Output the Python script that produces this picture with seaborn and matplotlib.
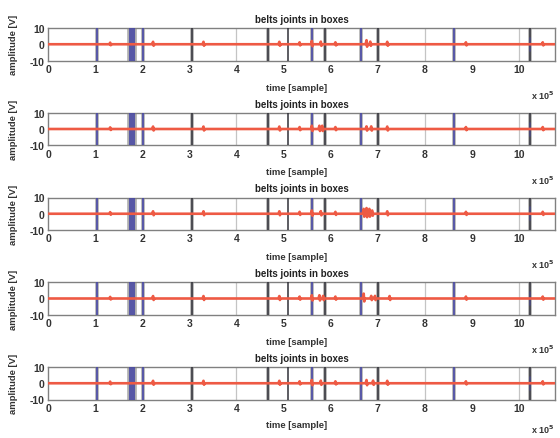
import numpy as np
import pandas as pd
import matplotlib
matplotlib.use("Agg")
import matplotlib.pyplot as plt
import seaborn as sns

# ---------------- data ----------------
title_text = "belts joints in boxes"
x_label = "time [sample]"
y_label = "amplitude [V]"
x_ticks = [0, 1, 2, 3, 4, 5, 6, 7, 8, 9, 10]
y_ticks = [-10, 0, 10]

# joint markers (x 10^5 samples)
joints_dark = [3.06, 4.66, 5.10, 5.88, 7.00, 10.22]
joints_gray = [1.04, 1.72, 1.76, 1.80, 1.84, 2.02, 3.06, 4.66, 5.60, 5.88, 6.64, 7.00, 8.62, 10.22]
joints_blue = [1.04, 1.75, 1.79, 1.83, 2.02, 5.60, 6.64, 8.62]
joints_faint = [4.00, 8.00, 10.00]
joint_blue_short = [10.24]

# small spikes on the amplitude signal, one list per panel
spike_pos_1 = [1.32, 2.23, 3.30, 4.91, 5.34, 5.60, 5.79, 6.10, 6.76, 6.84, 7.20, 8.87, 10.50]
spike_amp_1 = [1.0, 1.5, 1.5, 1.5, 1.2, 2.0, 1.6, 1.2, 2.5, 1.6, 1.5, 1.2, 1.2]
spike_pos_2 = [1.32, 2.23, 3.30, 4.91, 5.34, 5.60, 5.76, 5.82, 6.10, 6.76, 6.86, 7.20, 8.87, 10.50]
spike_amp_2 = [1.0, 1.5, 1.5, 1.5, 1.2, 2.0, 2.0, 2.0, 1.2, 1.6, 1.6, 1.5, 1.2, 1.2]
spike_pos_3 = [1.32, 2.23, 3.30, 4.91, 5.34, 5.60, 5.79, 6.10, 6.70, 6.76, 6.82, 6.88, 7.20, 8.87, 10.50]
spike_amp_3 = [1.0, 1.5, 1.5, 1.5, 1.2, 2.0, 1.6, 1.2, 3.0, 3.5, 3.0, 2.0, 1.5, 1.2, 1.2]
spike_pos_4 = [1.32, 2.23, 3.30, 4.91, 5.34, 5.60, 5.76, 5.84, 6.10, 6.70, 6.86, 6.94, 7.25, 8.87, 10.50]
spike_amp_4 = [1.0, 1.5, 1.5, 1.5, 1.2, 2.0, 2.0, 1.6, 1.2, 3.0, 1.6, 1.6, 1.5, 1.2, 1.2]
spike_pos_5 = [1.32, 2.23, 3.30, 4.91, 5.34, 5.60, 5.79, 6.10, 6.76, 6.90, 7.20, 8.87, 10.50]
spike_amp_5 = [1.0, 1.5, 1.5, 1.5, 1.2, 2.0, 1.6, 1.2, 2.0, 1.6, 1.5, 1.2, 1.2]

spike_pos = [spike_pos_1, spike_pos_2, spike_pos_3, spike_pos_4, spike_pos_5]
spike_amp = [spike_amp_1, spike_amp_2, spike_amp_3, spike_amp_4, spike_amp_5]

x_start, x_end = 0.0, 10.76

# ---------------- style ----------------
sns.set_style("white")
plt.rcParams["font.family"] = ["Liberation Sans", "DejaVu Sans"]
plt.rcParams["font.weight"] = "bold"

RED = "#ee5a44"
DARK = "#303038"
GRAY = "#9a9a9a"
BLUE = "#4646a6"
FAINT = "#c4c4c4"
TXT = "#333333"

W, H = 560, 439
fig = plt.figure(figsize=(W / 100, H / 100), dpi=100)

left_px, right_px = 48, 555
ax_h_px = 32.5
pitch = 84.75
top0 = 29


def build_signal(pos, amp, w=0.02):
    xs = [x_start]
    ys = [0.0]
    for p, a in sorted(zip(pos, amp)):
        xs += [p - w, p, p + w * 0.6, p + w * 1.2]
        ys += [0.0, a, -0.6 * a, 0.0]
    xs.append(x_end)
    ys.append(0.0)
    return pd.DataFrame({"time": xs, "amplitude": ys})


for i in range(5):
    top_px = top0 + pitch * i
    rect = [left_px / W, 1 - (top_px + ax_h_px) / H,
            (right_px - left_px) / W, ax_h_px / H]
    ax = fig.add_axes(rect)

    for xv in joints_faint:
        ax.axvline(xv, color=FAINT, lw=0.9, zorder=1)
    for xv in joints_gray:
        ax.axvline(xv, color=GRAY, lw=2.6, alpha=0.8, zorder=2)
    for xv in joints_dark:
        ax.axvline(xv, color=DARK, lw=1.1, zorder=3)
    for xv in joints_blue:
        ax.axvline(xv, color=BLUE, lw=1.3, alpha=0.9, zorder=4)
    for xv in joint_blue_short:
        ax.axvline(xv, ymin=0.3, ymax=0.7, color=BLUE, lw=1.2, zorder=4, alpha=0.5)

    df = build_signal(spike_pos[i], spike_amp[i])
    sns.lineplot(data=df, x="time", y="amplitude", ax=ax, color=RED,
                 lw=1.9, sort=False, estimator=None, zorder=5)

    ax.set_xlim(x_start, x_end)
    ax.set_ylim(-10, 10)
    ax.set_xticks(x_ticks)
    ax.set_yticks(y_ticks)
    ax.set_xticklabels([str(t) for t in x_ticks], fontsize=7.5, fontweight="bold")
    ax.set_yticklabels([str(t) for t in y_ticks], fontsize=7.5, fontweight="bold")
    ax.tick_params(direction="in", length=2.5, width=0.6, pad=2.5, colors="#666666",
                   labelcolor=TXT)
    for s in ax.spines.values():
        s.set_color("#808080")
        s.set_linewidth(1.0)

    ax.set_title(title_text, fontsize=7, fontweight="bold", pad=4.5, color="#222222")
    ax.set_xlabel(x_label, fontsize=6.8, fontweight="bold", color=TXT)
    ax.xaxis.set_label_coords(0.49, -0.82 if i < 4 else -0.76)
    ax.xaxis.label.set_va("center")
    ax.set_ylabel(y_label, fontsize=6.8, fontweight="bold", color=TXT)
    ax.yaxis.set_label_coords(-0.068, 0.5)
    ax.yaxis.label.set_va("center")
    ax.text(1.0, -1.05 if i < 4 else -0.9, r"x 10$^5$", transform=ax.transAxes,
            ha="right", va="center", fontsize=6.5, fontweight="bold", color=TXT)

fig.savefig("out.png", dpi=100)
